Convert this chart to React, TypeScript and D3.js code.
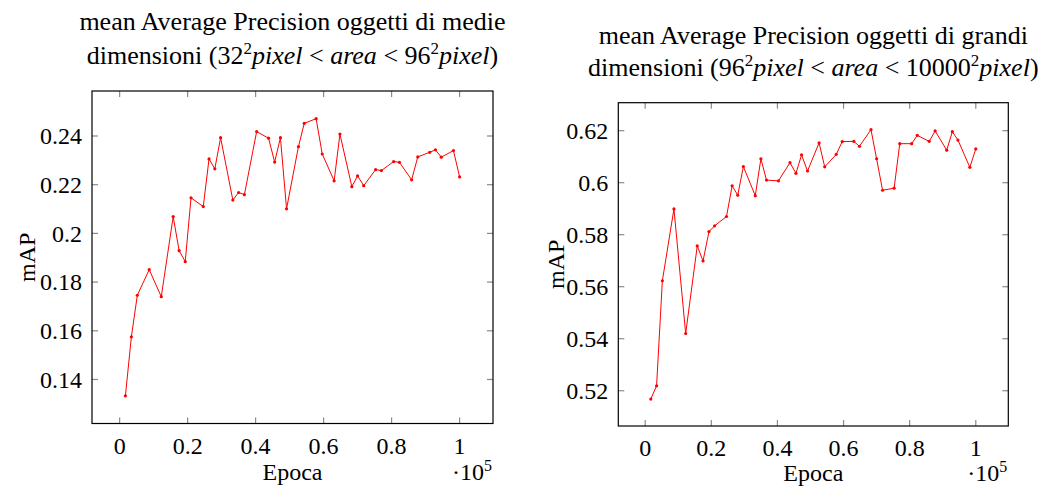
import * as d3 from "d3";

// epoche (in unità di 10^5), condivise dai due grafici
const EPOCHS = [
  0.017, 0.0345, 0.052, 0.087, 0.1225, 0.1575, 0.175, 0.193, 0.21, 0.246,
  0.263, 0.28, 0.297, 0.333, 0.35, 0.367, 0.403, 0.438, 0.456, 0.473,
  0.491, 0.526, 0.543, 0.578, 0.596, 0.631, 0.648, 0.683, 0.7, 0.718,
  0.753, 0.77, 0.806, 0.823, 0.859, 0.877, 0.912, 0.929, 0.946, 0.982, 1.0,
];

const MAP_MEDIE = [
  0.1333, 0.1575, 0.1746, 0.1851, 0.174, 0.2069, 0.1929, 0.1884, 0.2146, 0.211,
  0.2306, 0.2265, 0.2393, 0.2137, 0.2168, 0.2159, 0.2418, 0.2391, 0.2293, 0.2393,
  0.2101, 0.2356, 0.2452, 0.2471, 0.2326, 0.2216, 0.2408, 0.2192, 0.2236, 0.2196,
  0.2262, 0.2258, 0.2295, 0.2292, 0.222, 0.2314, 0.2333, 0.2343, 0.2313, 0.234, 0.2232,
];

const MAP_GRANDI = [
  0.5168, 0.5219, 0.5623, 0.5899, 0.542, 0.5757, 0.5699, 0.5812, 0.5834, 0.587,
  0.5988, 0.5952, 0.6062, 0.595, 0.6092, 0.601, 0.6007, 0.6077, 0.6036, 0.6107,
  0.6045, 0.6153, 0.6061, 0.6109, 0.6158, 0.6159, 0.614, 0.6204, 0.6092, 0.5971,
  0.5979, 0.615, 0.615, 0.6182, 0.6159, 0.6199, 0.6125, 0.6196, 0.6164, 0.6059, 0.613,
];

const X_TICKS = [0, 0.2, 0.4, 0.6, 0.8, 1];
const Y_TICKS_MEDIE = [0.14, 0.16, 0.18, 0.2, 0.22, 0.24];
const Y_TICKS_GRANDI = [0.52, 0.54, 0.56, 0.58, 0.6, 0.62];

const FONT = "'Liberation Serif', 'Times New Roman', serif";

type Seg = { t: string; it?: boolean; sup?: boolean };

const TITLE_MEDIE: Seg[] = [
  { t: "dimensioni (32" }, { t: "2", sup: true }, { t: "pixel", it: true },
  { t: " < " }, { t: "area", it: true }, { t: " < 96" }, { t: "2", sup: true },
  { t: "pixel", it: true }, { t: ")" },
];

const TITLE_GRANDI: Seg[] = [
  { t: "dimensioni (96" }, { t: "2", sup: true }, { t: "pixel", it: true },
  { t: " < " }, { t: "area", it: true }, { t: " < 10000" }, { t: "2", sup: true },
  { t: "pixel", it: true }, { t: ")" },
];

// pgfplots: enlarge limits del 10%
function enlarge([a, b]: [number, number]): [number, number] {
  const pad = (b - a) * 0.1;
  return [a - pad, b + pad];
}

const fmt = (v: number) => String(+v.toFixed(2));

function Plot(props: {
  x0: number; x1: number; y0: number; y1: number;
  values: number[]; yTicks: number[];
  line1: string; line2: Seg[]; titleY: [number, number];
  labelX: number; epocaY: number;
}) {
  const { x0, x1, y0, y1, values, yTicks, line1, line2, titleY, labelX, epocaY } = props;

  const x = d3.scaleLinear().domain(enlarge(d3.extent(EPOCHS) as [number, number])).range([x0, x1]);
  const y = d3.scaleLinear().domain(enlarge(d3.extent(values) as [number, number])).range([y1, y0]);

  const pts = EPOCHS.map((e, i) => [x(e), y(values[i])] as [number, number]);
  const path = d3.line()(pts) || "";
  const cx = (x0 + x1) / 2;
  const tick = 6;

  let prevSup = false;

  return (
    <g style={{ fontFamily: FONT }} fontSize={24} fill="#000">
      <text x={cx} y={titleY[0]} textAnchor="middle" fontSize={26}>{line1}</text>
      <text x={cx} y={titleY[1]} textAnchor="middle" fontSize={26} style={{ whiteSpace: "pre" }}>
        {line2.map((s, i) => {
          const dy = s.sup ? -10 : prevSup ? 10 : 0;
          prevSup = !!s.sup;
          return (
            <tspan key={i} dy={dy} fontStyle={s.it ? "italic" : "normal"} fontSize={s.sup ? 17 : 26}>
              {s.t}
            </tspan>
          );
        })}
      </text>

      {X_TICKS.map(t => (
        <g key={"x" + t}>
          <line x1={x(t)} x2={x(t)} y1={y1} y2={y1 - tick} stroke="#8a8a8a" strokeWidth={1.2} />
          <line x1={x(t)} x2={x(t)} y1={y0} y2={y0 + tick} stroke="#8a8a8a" strokeWidth={1.2} />
          <text x={x(t)} y={y1 + 30} textAnchor="middle">{fmt(t)}</text>
        </g>
      ))}
      {yTicks.map(t => (
        <g key={"y" + t}>
          <line x1={x0} x2={x0 + tick} y1={y(t)} y2={y(t)} stroke="#8a8a8a" strokeWidth={1.2} />
          <line x1={x1} x2={x1 - tick} y1={y(t)} y2={y(t)} stroke="#8a8a8a" strokeWidth={1.2} />
          <text x={x0 - 10} y={y(t)} dy="0.35em" textAnchor="end">{fmt(t)}</text>
        </g>
      ))}

      <path d={path} fill="none" stroke="#ff0000" strokeWidth={1} />
      {pts.map((p, i) => (
        <circle key={i} cx={p[0]} cy={p[1]} r={1.6} fill="#ff0000" />
      ))}

      <rect x={x0} y={y0} width={x1 - x0} height={y1 - y0} fill="none" stroke="#000" strokeWidth={1.2} />

      <text x={cx} y={epocaY} textAnchor="middle">Epoca</text>
      <text x={x1 - 1} y={epocaY} textAnchor="end">
        <tspan>·10</tspan>
        <tspan dy={-9} fontSize={16}>5</tspan>
      </text>
      <text transform={`translate(${labelX}, ${(y0 + y1) / 2}) rotate(-90)`} textAnchor="middle">mAP</text>
    </g>
  );
}

export default function App() {
  return (
    <svg
      width={1041}
      height={488}
      viewBox="0 0 1041 488"
      style={{ position: "absolute", left: 0, top: 0, background: "#fff" }}
    >
      <Plot
        x0={92} x1={493} y0={91} y1={423.5}
        values={MAP_MEDIE} yTicks={Y_TICKS_MEDIE}
        line1="mean Average Precision oggetti di medie" line2={TITLE_MEDIE}
        titleY={[30, 64]} labelX={35} epocaY={480}
      />
      <Plot
        x0={618.3} x1={1008.3} y0={102.7} y1={426}
        values={MAP_GRANDI} yTicks={Y_TICKS_GRANDI}
        line1="mean Average Precision oggetti di grandi" line2={TITLE_GRANDI}
        titleY={[44, 76]} labelX={564} epocaY={481}
      />
    </svg>
  );
}
